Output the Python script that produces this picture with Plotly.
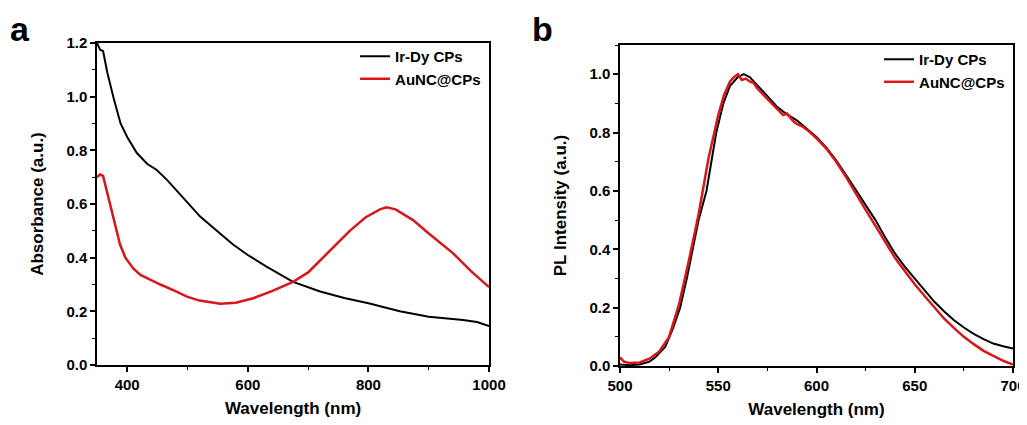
import plotly.graph_objects as go
from plotly.subplots import make_subplots

# panel a: absorbance
abs_wl_black = [350, 355, 360, 367, 378, 389, 400, 416, 433, 449, 466, 482, 499, 521, 554, 575, 600, 631, 675, 720, 760, 800, 852, 900, 957, 980, 1000]
abs_black = [1.2, 1.175, 1.17, 1.09, 0.99, 0.9, 0.85, 0.79, 0.75, 0.727, 0.69, 0.65, 0.61, 0.553, 0.49, 0.45, 0.41, 0.367, 0.31, 0.274, 0.25, 0.23, 0.2, 0.18, 0.168, 0.16, 0.145]
abs_wl_red = [350, 355, 360, 365, 372, 380, 388, 397, 410, 422, 440, 455, 480, 499, 520, 554, 580, 609, 640, 675, 700, 720, 745, 769, 795, 819, 830, 845, 874, 900, 940, 970, 1000]
abs_red = [0.7, 0.71, 0.705, 0.66, 0.6, 0.52, 0.45, 0.4, 0.36, 0.336, 0.315, 0.3, 0.275, 0.255, 0.24, 0.228, 0.232, 0.249, 0.275, 0.31, 0.345, 0.39, 0.445, 0.5, 0.55, 0.58, 0.588, 0.58, 0.54, 0.49, 0.417, 0.35, 0.29]

# panel b: PL spectra
pl_wl_black = [500, 505, 510, 515, 518, 523, 527, 530.6, 534, 537, 540, 544, 547, 549, 552.6, 556, 560, 563, 566, 570, 575, 580, 585, 590, 595, 600, 605, 610, 615, 620, 625, 630, 635, 640, 645, 650, 655, 660, 665, 670, 675, 680, 685, 690, 695, 700]
pl_black = [0.005, 0.003, 0.005, 0.015, 0.03, 0.065, 0.13, 0.2, 0.3, 0.4, 0.5, 0.6, 0.72, 0.8, 0.9, 0.96, 0.99, 1.0, 0.99, 0.962, 0.925, 0.888, 0.862, 0.842, 0.815, 0.785, 0.748, 0.705, 0.655, 0.602, 0.55, 0.5, 0.44, 0.385, 0.34, 0.3, 0.26, 0.22, 0.187, 0.157, 0.132, 0.11, 0.092, 0.077, 0.068, 0.06]
pl_wl_red = [500, 502, 505, 510, 515, 520, 525, 530, 535, 540, 545, 550, 553, 556, 558, 560, 562, 564, 566, 568, 570, 575, 580, 583, 585, 588, 590, 593, 596, 600, 605, 610, 615, 620, 625, 630, 635, 640, 645, 650, 655, 660, 665, 670, 675, 680, 685, 690, 695, 700]
pl_red = [0.03, 0.015, 0.01, 0.012, 0.025, 0.05, 0.1, 0.21, 0.36, 0.52, 0.71, 0.86, 0.93, 0.975, 0.99, 1.0, 0.98, 0.985, 0.975, 0.97, 0.95, 0.915, 0.88, 0.86, 0.865, 0.84, 0.83, 0.82, 0.805, 0.78, 0.745, 0.7, 0.648, 0.59, 0.535, 0.48, 0.425, 0.37, 0.325, 0.28, 0.24, 0.2, 0.162, 0.13, 0.1, 0.075, 0.052, 0.035, 0.018, 0.005]

RED = '#d9171b'

fig = make_subplots(rows=1, cols=2)
fig.add_trace(go.Scatter(x=abs_wl_black, y=abs_black, name='Ir-Dy CPs', mode='lines',
                         line=dict(color='black', width=2), legend='legend'), row=1, col=1)
fig.add_trace(go.Scatter(x=abs_wl_red, y=abs_red, name='AuNC@CPs', mode='lines',
                         line=dict(color=RED, width=2.5), legend='legend'), row=1, col=1)
fig.add_trace(go.Scatter(x=pl_wl_black, y=pl_black, name='Ir-Dy CPs', mode='lines',
                         line=dict(color='black', width=2), legend='legend2'), row=1, col=2)
fig.add_trace(go.Scatter(x=pl_wl_red, y=pl_red, name='AuNC@CPs', mode='lines',
                         line=dict(color=RED, width=2.5), legend='legend2'), row=1, col=2)

tf = dict(family='Liberation Sans', size=15, color='black', weight='bold')
ttf = dict(family='Liberation Sans', size=17, color='black', weight='bold')
ax = dict(showline=True, linecolor='black', linewidth=1.5, mirror=True, ticks='outside',
          ticklen=5, tickwidth=1.5, tickcolor='black', showgrid=False, zeroline=False,
          tickfont=tf, title_font=ttf, automargin=False,
          minor=dict(ticks='outside', ticklen=3, tickwidth=1.2, tickcolor='black', showgrid=False))

fig.update_xaxes(ax)
fig.update_yaxes(ax)
fig.update_xaxes(range=[350, 1000], tickvals=[400, 600, 800, 1000], minor_dtick=100, minor_tick0=0,
                 domain=[0.0867, 0.4684], title_text='Wavelength (nm)', title_standoff=10, row=1, col=1)
fig.update_yaxes(range=[0, 1.2], dtick=0.2, tickformat='.1f', minor_dtick=0.1,
                 domain=[0.16, 0.9176], title_text='Absorbance (a.u.)', title_standoff=18, row=1, col=1)
fig.update_xaxes(range=[500, 700], dtick=50, minor_dtick=25, minor_tick0=500,
                 domain=[0.5959, 0.9786], title_text='Wavelength (nm)', title_standoff=10, row=1, col=2)
fig.update_yaxes(range=[0, 1.1], tickvals=[0, 0.2, 0.4, 0.6, 0.8, 1.0], tickformat='.1f', minor_dtick=0.1,
                 domain=[0.1576, 0.9129], title_text='PL Intensity (a.u.)', title_standoff=18, row=1, col=2)

lf = dict(family='Liberation Sans', size=15, color='black', weight='bold')
fig.update_layout(
    width=1027, height=425, plot_bgcolor='white', paper_bgcolor='white',
    margin=dict(l=0, r=0, t=0, b=0),
    legend=dict(x=0.4655, y=0.9247, xanchor='right', yanchor='top', bgcolor='rgba(0,0,0,0)',
                font=lf, tracegroupgap=0, itemwidth=30),
    legend2=dict(x=0.9757, y=0.9176, xanchor='right', yanchor='top', bgcolor='rgba(0,0,0,0)',
                 font=lf, tracegroupgap=0, itemwidth=30),
    annotations=[
        dict(text='a', x=0.0, y=1.0, xref='paper', yref='paper', xanchor='left', yanchor='top',
             showarrow=False, font=dict(family='Liberation Sans', size=34, color='black', weight='bold')),
        dict(text='b', x=0.508, y=1.0, xref='paper', yref='paper', xanchor='left', yanchor='top',
             showarrow=False, font=dict(family='Liberation Sans', size=34, color='black', weight='bold')),
    ],
)

fig.write_html("out.html")
